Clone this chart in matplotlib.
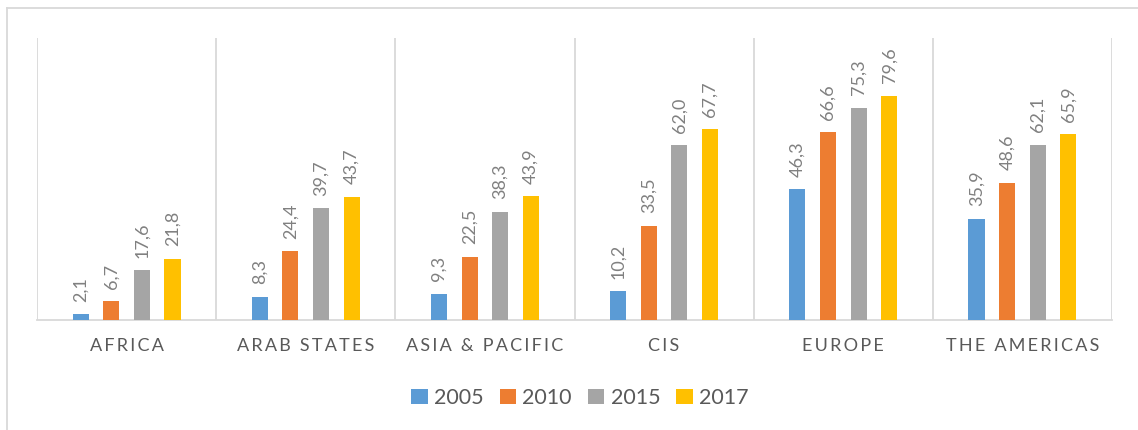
import numpy as np
import matplotlib.pyplot as plt
from matplotlib.lines import Line2D

plt.rcParams['font.family'] = ['Lato', 'DejaVu Sans']

regions = ["AFRICA", "ARAB STATES", "ASIA & PACIFIC", "CIS", "EUROPE", "THE AMERICAS"]
years = ["2005", "2010", "2015", "2017"]
v2005 = [2.1, 8.3, 9.3, 10.2, 46.3, 35.9]
v2010 = [6.7, 24.4, 22.5, 33.5, 66.6, 48.6]
v2015 = [17.6, 39.7, 38.3, 62.0, 75.3, 62.1]
v2017 = [21.8, 43.7, 43.9, 67.7, 79.6, 65.9]
series = [v2005, v2010, v2015, v2017]
colors = ['#5B9BD5', '#ED7D31', '#A5A5A5', '#FFC000']
txt_col = '#595959'
grid_col = '#D9D9D9'


def spaced(s):
    # fake letter spacing like the excel axis labels
    return '\u2009'.join(list(s))


fig = plt.figure(figsize=(11.38, 4.30), dpi=100)
ax = fig.add_axes([37 / 1138, 110 / 430, 1075 / 1138, 282 / 430])

x = np.arange(len(regions))
step = 0.171
width = 0.09
for i, (vals, c) in enumerate(zip(series, colors)):
    pos = x + (i - 1.5) * step
    ax.bar(pos, vals, width=width, color=c, label=years[i], zorder=3)
    for p, v in zip(pos, vals):
        ax.annotate(f"{v:.1f}".replace('.', ','), (p, v), xytext=(0, 9),
                    textcoords='offset points', rotation=90, ha='center',
                    va='bottom', fontsize=13, color='#808080')

ax.set_xlim(-0.5, len(regions) - 0.5)
ax.set_ylim(0, 100)
for k in range(len(regions) + 1):
    ax.axvline(k - 0.5, color=grid_col, lw=1.3, zorder=1)

for s in ['top', 'left', 'right']:
    ax.spines[s].set_visible(False)
ax.spines['bottom'].set_color(grid_col)
ax.spines['bottom'].set_linewidth(1.3)
ax.set_yticks([])
ax.set_xticks(x)
ax.set_xticklabels([spaced(r) for r in regions], fontsize=13, color=txt_col)
ax.tick_params(axis='x', length=0, pad=13)

ax.legend(loc='center', bbox_to_anchor=(580 / 1138, 32 / 430),
          bbox_transform=fig.transFigure, ncol=4, frameon=False,
          fontsize=15.5, labelcolor=txt_col, handlelength=0.75,
          handleheight=0.75, handletextpad=0.3, columnspacing=0.75)

# outer chart border
fig.add_artist(Line2D([7 / 1138, 7 / 1138], [0, 1 - 8 / 430],
                      transform=fig.transFigure, color=grid_col, lw=1.3))
fig.add_artist(Line2D([7 / 1138, 1], [1 - 8 / 430, 1 - 8 / 430],
                      transform=fig.transFigure, color=grid_col, lw=1.3))

fig.savefig("out.png", dpi=100)
